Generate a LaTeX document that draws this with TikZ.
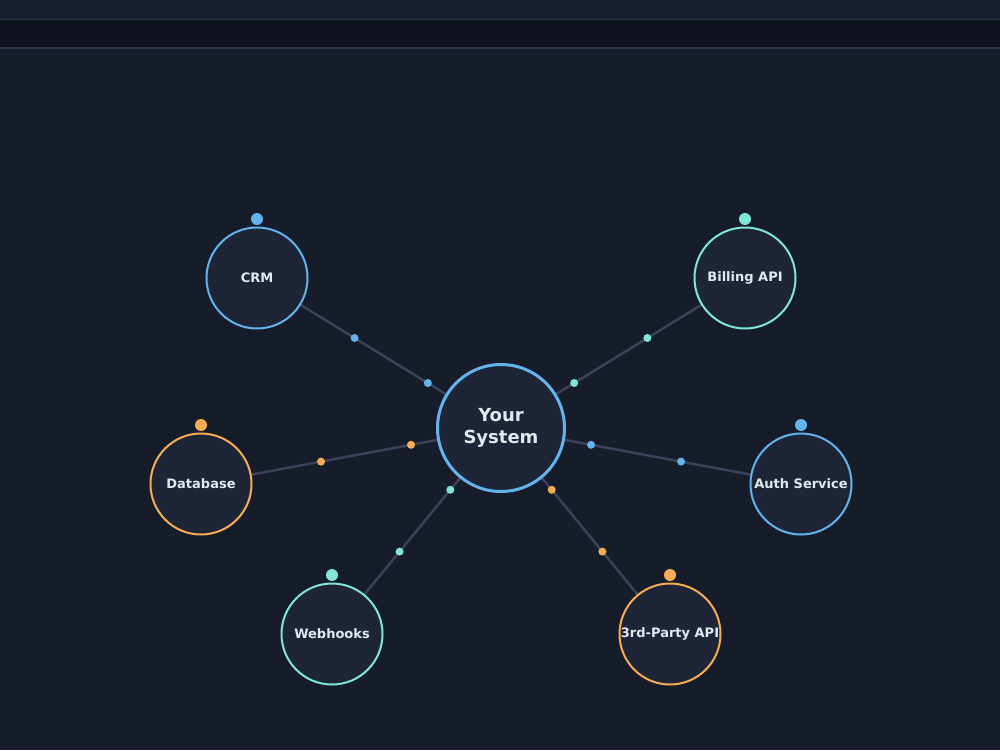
\documentclass[tikz,border=0pt]{standalone}
\usepackage{fontspec}
\setmainfont{DejaVu Sans}
\usetikzlibrary{calc}
\definecolor{bgc}{HTML}{171C2B}
\definecolor{topc}{HTML}{1A1F2F}
\definecolor{barc}{HTML}{0E121C}
\definecolor{rulec}{HTML}{2B3147}
\definecolor{nodefill}{HTML}{1E2537}
\definecolor{linkc}{HTML}{3B4259}
\definecolor{txtc}{HTML}{E2E8F0}
\definecolor{cblue}{HTML}{63B3ED}
\definecolor{cteal}{HTML}{81E6D9}
\definecolor{corange}{HTML}{F6AD55}
\tikzset{
  hub/.style={circle, draw=cblue, line width=3pt, fill=nodefill, minimum size=127pt, inner sep=0pt,
    text=txtc, font=\fontsize{18}{21.5}\selectfont\bfseries, align=center},
  sat/.style={circle, draw=#1, line width=2pt, fill=nodefill, minimum size=101pt, inner sep=0pt,
    text=txtc, font=\fontsize{13}{15}\selectfont\bfseries},
  link/.style={draw=linkc, line width=2.5pt},
  pip/.style={circle, fill=#1, inner sep=0pt, minimum size=8pt},
  cap/.style={circle, fill=#1, inner sep=0pt, minimum size=12pt}
}
\begin{document}
\begin{tikzpicture}[x=1pt,y=-1pt]
\fill[bgc] (0,0) rectangle (1000,750);
\useasboundingbox (0,0) rectangle (1000,750);
\fill[topc] (0,0) rectangle (1000,19);
\fill[barc] (0,20) rectangle (1000,47.5);
\draw[rulec, line width=1.5pt] (0,19.7) -- (1000,19.7);
\draw[rulec, line width=1.5pt] (0,48) -- (1000,48);

\coordinate (c) at (501,428);
\foreach \n/\x/\y/\col/\lab in {
  crm/257/278/cblue/CRM,
  bill/745/278/cteal/Billing API,
  db/201/484/corange/Database,
  auth/801/484/cblue/Auth Service,
  hook/332/634/cteal/Webhooks,
  third/670/634/corange/3rd-Party API}{
  \coordinate (\n c) at (\x,\y);
  \draw[link] (c) -- (\n c);
  \node[pip=\col] (\n p1) at ($(c)!0.3!(\n c)$) {};
  \node[pip=\col] (\n p2) at ($(c)!0.6!(\n c)$) {};
}
\node[hub] (hub) at (c) {Your\\System};
\foreach \n/\x/\y/\col/\lab in {
  crm/257/278/cblue/CRM,
  bill/745/278/cteal/Billing API,
  db/201/484/corange/Database,
  auth/801/484/cblue/Auth Service,
  hook/332/634/cteal/Webhooks,
  third/670/634/corange/3rd-Party API}{
  \node[sat=\col] (\n) at (\x,\y) {\lab};
  \node[cap=\col] (\n cap) at (\x,\y-59) {};
}
\end{tikzpicture}
\end{document}
